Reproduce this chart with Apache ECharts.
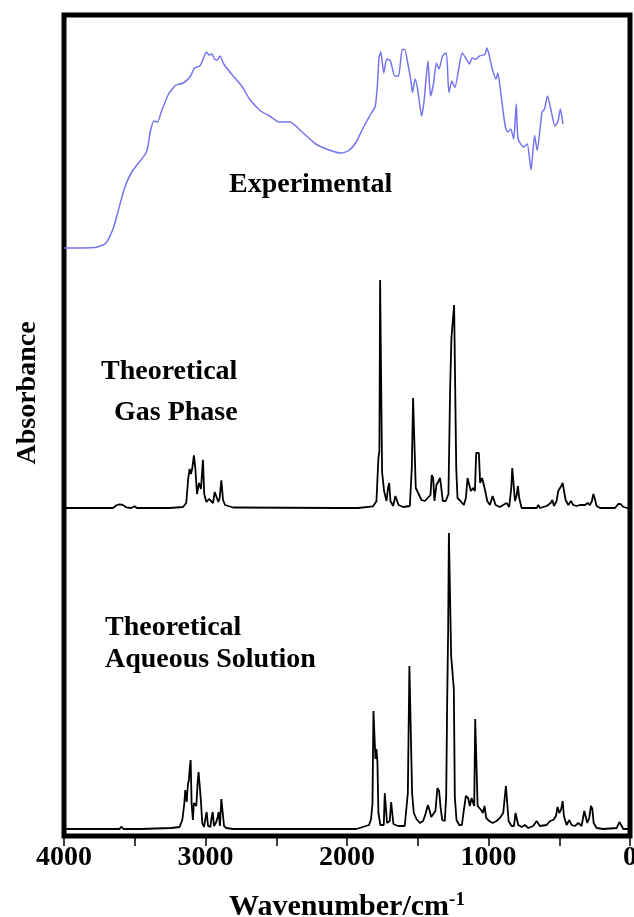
<!DOCTYPE html>
<html>
<head>
<meta charset="utf-8">
<title>IR spectra</title>
<script src="https://cdn.jsdelivr.net/npm/echarts@6.0.0/dist/echarts.min.js"></script>
<style>
  html,body{margin:0;padding:0;background:#fff;}
  #chart{width:634px;height:917px;}
</style>
</head>
<body>
<div id="chart"></div>
<script>
// experimental spectrum (relative absorbance)
const expWavenumber = [4000,3781,3703,3651,3625,3573,3521,3417,3391,3365,3339,3313,3261,3209,3157,3105,3079,3040,3014,2993,2975,2954,2936,2918,2897,2871,2793,2741,2689,2611,2546,2481,2403,2325,2221,2117,2039,1987,1935,1883,1831,1800,1784,1774,1761,1740,1719,1693,1662,1636,1610,1592,1571,1550,1537,1519,1501,1472,1454,1428,1410,1389,1368,1350,1324,1298,1280,1259,1238,1207,1186,1155,1134,1116,1090,1064,1025,1012,999,973,947,934,908,882,864,843,822,804,791,752,726,700,674,656,622,604,583,557,531,510,492,474];
const expAbsorbance = [0,0.5,5,20,33,59.5,76,96,116,127,126,136,154,163,165,172,180,182,190,196,193,194,189,188,192,184,170,161.5,149,137,132,126,126,117,104,97.5,95,97.5,106,121,134,142,165,190,196,175,189,187,172,172,198.5,198.5,185,169,155.5,169,159,132,149,187,152,164,185,179,192,195,155.5,167,160.5,182,195,188.6,184,190,188.6,192,193.6,200,195,179,169,175,149,122,116,119,109,144,109,101,104,78,112.5,97.5,135.6,139,152,137,122,126,139,124];

// theoretical, gas phase
const gasWavenumber = [4000,3654,3626,3607,3584,3560,3525,3501,3485,3254,3242,3159,3136,3122,3112,3103,3093,3082,3072,3060,3046,3032,3018,3009,2994,2975,2961,2947,2935,2924,2909,2900,2888,2876,2862,2806,2051,1922,1910,1816,1792,1778,1771,1766,1759,1752,1738,1721,1710,1702,1693,1674,1658,1648,1636,1603,1556,1542,1533,1523,1514,1497,1474,1450,1437,1410,1401,1391,1382,1368,1356,1342,1332,1323,1302,1283,1271,1262,1250,1243,1233,1228,1219,1198,1174,1160,1148,1137,1125,1108,1096,1087,1077,1068,1059,1045,1035,1023,1009,990,971,960,950,920,896,872,854,839,832,823,813,802,792,783,766,660,648,637,589,561,549,537,519,507,498,486,476,465,455,436,417,401,377,354,318,299,283,269,259,250,236,212,106,83,66,47,19,0];
const gasAbsorbance = [0,0,3,3.7,3,0.7,0,1.7,0,0,1,1,5,30,39,34,40,52.7,40,14,25,19,48.3,14,6,9,11,5,16,14,6,10,27.7,8,3,0.5,0,0,0.7,1.7,6.7,50,57,228,228,36,17,7,20,25,7,2,12,14,3,1,2,40,110,110,20,15,8,7,8,13,33,30,7,23,26,30,28,7,7,14,120,170,170,203,203,40,10,7,3,10,30,28,17,20,17,55,57,55,25,30,30,17,7,3,12,12,3,1,3,5,1,20,40,38,7,12,22,10,0,0,3,0,2,5,8,2,7,17,15,22,25,23,8,3,7,3,2,3,3,5,3,7,14,10,2,0,0,4,4,1,0,0];

// theoretical, aqueous solution
const aqWavenumber = [4000,3607,3596,3579,3480,3471,3456,3242,3183,3164,3150,3143,3133,3124,3117,3112,3105,3098,3089,3082,3065,3056,3049,3039,3032,3023,3011,3001,2992,2982,2966,2956,2949,2940,2924,2914,2907,2898,2888,2879,2869,2853,2806,2051,1934,1922,1844,1830,1820,1813,1804,1799,1792,1785,1778,1764,1740,1733,1724,1717,1698,1688,1679,1672,1639,1592,1570,1559,1549,1540,1528,1509,1485,1462,1443,1429,1419,1405,1391,1375,1361,1349,1339,1327,1309,1299,1292,1285,1280,1271,1264,1250,1245,1238,1226,1207,1188,1174,1160,1144,1132,1120,1108,1101,1094,1085,1077,1066,1052,1040,1028,1016,995,971,943,920,896,884,877,868,858,837,820,809,799,790,766,743,719,684,660,637,589,566,542,523,512,500,486,476,467,448,429,413,389,365,342,323,311,302,288,276,266,257,236,189,94,75,64,47,0];
const aqAbsorbance = [0,0,2.3,0,0,1.5,0,1,2,9,25,39,27,45,49,60,69,25,9,26,23,45,57,40,27,6,2,10,17,3,2,12,17,3,7,12,17,3,30,32,3,1,0,0,0,1,4,10,25,118,118,70,80,67,16,4,4,36,36,6,8,27,27,5,3,3,36,163,163,36,16,10,6,8,16,24,20,12,14,18,41,38,22,9,8,32,128,200,296,296,173,173,140,32,9,4,4,19,33,31,23,31,33,23,110,110,23,24,19,16,23,11,8,6,8,11,16,16,43,43,8,3,3,16,16,4,2,4,1,3,8,3,4,8,9,13,22,16,20,28,13,4,9,4,3,6,3,18,18,6,11,23,20,6,1,0,1,7,6,0,0];

// vertical offsets of the stacked traces
const expOffset = 588;
const gasOffset = 328;
const aqOffset = 7;

function stack(wn, ab, off) {
  return wn.map(function (w, i) { return [w, ab[i] + off]; });
}

const serif = '"Liberation Serif", "Times New Roman", serif';

let myChart = echarts.init(document.getElementById('chart'));

let option = {
  animation: false,
  grid: {
    left: 64,
    right: 4,
    top: 15,
    bottom: 81,
    containLabel: false,
    outerBoundsMode: 'none',
    show: true,
    borderWidth: 5,
    borderColor: '#000'
  },
  xAxis: {
    type: 'value',
    min: 0,
    max: 4000,
    interval: 1000,
    inverse: true,
    name: 'Wavenumber/cm{sup|-1}',
    nameLocation: 'middle',
    nameGap: 55,
    nameTextStyle: {
      fontFamily: serif,
      fontWeight: 'bold',
      fontSize: 30,
      color: '#000',
      rich: {
        sup: {
          fontFamily: serif,
          fontWeight: 'bold',
          fontSize: 19,
          color: '#000',
          verticalAlign: 'top',
          padding: [0, 0, 14, 0]
        }
      }
    },
    axisLine: { show: false },
    axisTick: {
      show: true,
      inside: false,
      length: 10,
      lineStyle: { color: '#000', width: 1.5 }
    },
    minorTick: {
      show: true,
      splitNumber: 2,
      length: 10,
      lineStyle: { color: '#000', width: 1.5 }
    },
    splitLine: { show: false },
    axisLabel: {
      margin: 8,
      showMinLabel: true,
      showMaxLabel: true,
      fontFamily: serif,
      fontWeight: 'bold',
      fontSize: 28,
      color: '#000',
      formatter: function (v) { return String(v); }
    }
  },
  yAxis: {
    type: 'value',
    min: 0,
    max: 821,
    show: false
  },
  series: [
    {
      name: 'Experimental',
      type: 'line',
      data: stack(expWavenumber, expAbsorbance, expOffset),
      showSymbol: false,
      smooth: 0.2,
      lineStyle: { color: '#7474ee', width: 1.5 }
    },
    {
      name: 'Gas Phase',
      type: 'line',
      data: stack(gasWavenumber, gasAbsorbance, gasOffset),
      showSymbol: false,
      lineStyle: { color: '#000', width: 1.8 }
    },
    {
      name: 'Aqueous Solution',
      type: 'line',
      data: stack(aqWavenumber, aqAbsorbance, aqOffset),
      showSymbol: false,
      lineStyle: { color: '#000', width: 1.8 }
    }
  ],
  graphic: [
    {
      type: 'text', x: 28, y: 393, rotation: Math.PI / 2,
      style: { text: 'Absorbance', font: 'bold 28px ' + serif, fill: '#000', align: 'center', verticalAlign: 'middle' }
    },
    {
      type: 'text', x: 229, y: 185,
      style: { text: 'Experimental', font: 'bold 28px ' + serif, fill: '#000', align: 'left', verticalAlign: 'middle' }
    },
    {
      type: 'text', x: 101, y: 372,
      style: { text: 'Theoretical', font: 'bold 28px ' + serif, fill: '#000', align: 'left', verticalAlign: 'middle' }
    },
    {
      type: 'text', x: 114, y: 413,
      style: { text: 'Gas Phase', font: 'bold 28px ' + serif, fill: '#000', align: 'left', verticalAlign: 'middle' }
    },
    {
      type: 'text', x: 105, y: 628,
      style: { text: 'Theoretical', font: 'bold 28px ' + serif, fill: '#000', align: 'left', verticalAlign: 'middle' }
    },
    {
      type: 'text', x: 105, y: 660,
      style: { text: 'Aqueous Solution', font: 'bold 28px ' + serif, fill: '#000', align: 'left', verticalAlign: 'middle' }
    }
  ]
};

myChart.setOption(option);
window.addEventListener('resize', function () {
  myChart.resize();
});
</script>
</body>
</html>
